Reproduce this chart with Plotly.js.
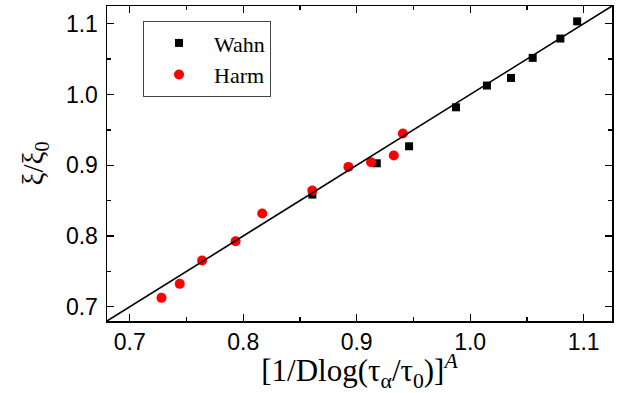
<!DOCTYPE html>
<html>
<head>
<meta charset="utf-8">
<script src="https://cdn.plot.ly/plotly-3.0.1.min.js"></script>
<style>html,body{margin:0;padding:0;background:#fff;}#chart{width:623px;height:393px;}</style>
</head>
<body>
<div id="chart"></div>
<script>
// Wahn data (black squares)
const wahnX = [0.861, 0.9177, 0.9462, 0.9875, 1.0148, 1.0360, 1.0551, 1.0795, 1.0943];
const wahnY = [0.8586, 0.9028, 0.9268, 0.9819, 1.0126, 1.0234, 1.0517, 1.0790, 1.1033];
// Harm data (red circles)
const harmX = [0.7280, 0.7441, 0.7638, 0.7933, 0.8168, 0.8609, 0.8927, 0.9127, 0.9327, 0.9407];
const harmY = [0.7127, 0.7325, 0.7654, 0.7927, 0.8318, 0.8643, 0.8977, 0.9042, 0.9137, 0.9448];
// Reference line y = x
const lineX = [0.68, 1.125];
const lineY = [0.68, 1.125];
const tickVals = [0.7, 0.8, 0.9, 1.0, 1.1];
const tickText = ['0.7', '0.8', '0.9', '1.0', '1.1'];

const SERIF = 'Liberation Serif, Times New Roman, serif';

const traces = [
  {x: wahnX, y: wahnY, type: 'scatter', mode: 'markers', name: 'Wahn',
   marker: {symbol: 'square', size: 8, color: '#000'}},
  {x: harmX, y: harmY, type: 'scatter', mode: 'markers', name: 'Harm',
   marker: {symbol: 'circle', size: 10, color: '#ff0000'}},
  {x: lineX, y: lineY, type: 'scatter', mode: 'lines', showlegend: false,
   line: {color: '#000', width: 1.6}}
];

function makeAxis(title, titleSize, standoff, labelStandoff) {
  return {
    range: [0.68, 1.125],
    tickmode: 'array',
    tickvals: tickVals, ticktext: tickText,
    ticks: 'inside', ticklen: 7, tickwidth: 1.3, tickcolor: '#000',
    ticklabelstandoff: labelStandoff,
    minor: {dtick: 0.05, tick0: 0.65, ticks: 'inside', ticklen: 4, tickwidth: 1.3, tickcolor: '#000', showgrid: false},
    showline: true, linecolor: '#000', linewidth: 1.5, mirror: 'allticks',
    showgrid: false, zeroline: false,
    tickfont: {family: 'Arial', size: 23, color: '#000'},
    title: {text: title, standoff: standoff,
            font: {family: SERIF, size: titleSize, color: '#000'}}
  };
}

const layout = {
  width: 623, height: 393,
  margin: {l: 107, r: 11, t: 6, b: 72},
  paper_bgcolor: '#fff', plot_bgcolor: '#fff',
  xaxis: makeAxis('[1/Dlog(τ<sub>α</sub>/τ<sub>0</sub>)]<sup><i>A</i></sup>', 31, 0, 0),
  yaxis: makeAxis('ξ/ξ<sub>0</sub>', 29, 14, 3),
  legend: {
    x: 0.0713, y: 0.952, xanchor: 'left', yanchor: 'top',
    bgcolor: '#fff', bordercolor: '#444', borderwidth: 1,
    itemwidth: 60,
    font: {family: SERIF, size: 22, color: '#000'}
  },
  showlegend: true
};

Plotly.newPlot('chart', traces, layout, {displayModeBar: false, staticPlot: true});
</script>
</body>
</html>
